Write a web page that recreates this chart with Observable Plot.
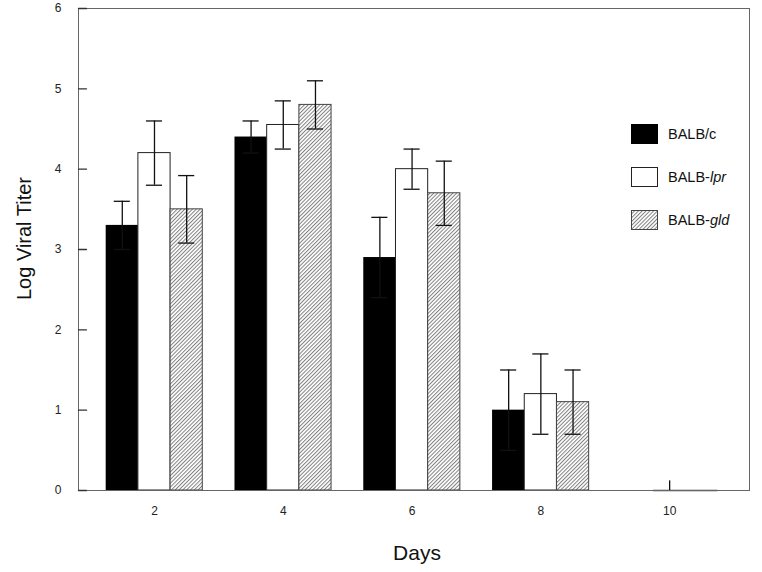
<!DOCTYPE html>
<html><head><meta charset="utf-8">
<script src="https://cdn.jsdelivr.net/npm/d3@7"></script>
<script src="https://cdn.jsdelivr.net/npm/@observablehq/plot@0.6"></script>
<style>
body{margin:0;background:#fff;font-family:"Liberation Sans",Arial,sans-serif;}
#wrap{position:relative;width:762px;height:572px;}
#legend{position:absolute;left:631px;top:124px;}
.item{display:flex;align-items:center;height:20px;margin-bottom:23px;font-size:14.5px;color:#111;white-space:nowrap}
.sw{width:27px;height:20px;box-sizing:border-box;margin-right:10px}
</style></head><body><div id="wrap"></div>
<script>
const days = [2, 4, 6, 8, 10];
const strains = ["BALB/c", "BALB-lpr", "BALB-gld"];
const balbC = [3.3, 4.4, 2.9, 1.0, 0];
const balbCErr = [0.3, 0.2, 0.5, 0.5, 0];
const balbLpr = [4.2, 4.55, 4.0, 1.2, 0];
const balbLprErr = [0.4, 0.3, 0.25, 0.5, 0.12];
const balbGld = [3.5, 4.8, 3.7, 1.1, 0];
const balbGldErr = [0.42, 0.3, 0.4, 0.4, 0];
const yTicks = [0, 1, 2, 3, 4, 5, 6];

const series = [balbC, balbLpr, balbGld];
const errs = [balbCErr, balbLprErr, balbGldErr];
const barW = 0.5; // bar width in day units
const rows = [];
strains.forEach((s, i) => days.forEach((d, j) => rows.push({
  strain: s, si: i, day: d, value: series[i][j], err: errs[i][j],
  center: d + (i - 1) * barW
})));

const styles = [
  {fill: "#000", stroke: "none"},
  {fill: "#fff", stroke: "#222"},
  {fill: "url(#hatch)", stroke: "#444"}
];

const tickShape = {draw(context, l) { context.moveTo(0, 0); context.lineTo(0, -l); }};

const chart = Plot.plot({
  width: 762, height: 572,
  marginLeft: 78, marginRight: 13, marginTop: 8, marginBottom: 82,
  style: {fontFamily: "'Liberation Sans', Arial, sans-serif", background: "#fff", color: "#222"},
  x: {type: "linear", domain: [0.82, 11.24]},
  y: {domain: [0, 6]},
  marks: [
    ...strains.map((s, i) => Plot.rectY(rows.filter(r => r.si === i), {
      x1: r => r.center - barW / 2, x2: r => r.center + barW / 2,
      y1: 0, y2: "value", fill: styles[i].fill, stroke: styles[i].stroke, strokeWidth: 1
    })),
    Plot.ruleY(rows.filter(r => r.value === 0 && r.si > 0), {y: "value", x1: r => r.center - barW / 2, x2: r => r.center + barW / 2, stroke: "#444", strokeWidth: 1.5}),
    Plot.ruleX(rows.filter(r => r.err > 0), {x: "center", y1: r => Math.max(0, r.value - r.err), y2: r => r.value + r.err, stroke: "#111", strokeWidth: 1.3}),
    Plot.ruleY(rows.filter(r => r.err >= 0.2), {y: r => r.value + r.err, x1: r => r.center - 0.125, x2: r => r.center + 0.125, stroke: "#111", strokeWidth: 1.3}),
    Plot.ruleY(rows.filter(r => r.err >= 0.2), {y: r => r.value - r.err, x1: r => r.center - 0.125, x2: r => r.center + 0.125, stroke: "#111", strokeWidth: 1.3}),
    Plot.frame({stroke: "#666"}),
    Plot.vector(yTicks, {y: d => d, frameAnchor: "left", length: 8, rotate: 90, anchor: "start", shape: tickShape, stroke: "#333", strokeWidth: 1.3}),
    Plot.axisY({ticks: yTicks, tickSize: 0, tickPadding: 17, tickFormat: d => d, label: null, fontSize: 12}),
    Plot.axisX({ticks: days, tickSize: 0, tickPadding: 16, tickFormat: d => d, label: null, fontSize: 12}),
    Plot.text(["Log Viral Titer"], {frameAnchor: "left", text: d => d, textAnchor: "middle", lineAnchor: "middle", rotate: -90, dx: -54, dy: -11, fontSize: 20, fill: "#111"}),
    Plot.text(["Days"], {frameAnchor: "bottom", text: d => d, textAnchor: "middle", lineAnchor: "middle", dy: 63, dx: 3, fontSize: 21, fill: "#111"})
  ]
});

const defs = d3.select(chart).insert("defs", ":first-child");
const pat = defs.append("pattern").attr("id", "hatch").attr("patternUnits", "userSpaceOnUse")
  .attr("width", 2.7).attr("height", 2.7).attr("patternTransform", "rotate(45)");
pat.append("rect").attr("width", 2.7).attr("height", 2.7).attr("fill", "#fff");
pat.append("line").attr("x1", 0.5).attr("y1", 0).attr("x2", 0.5).attr("y2", 2.7).attr("stroke", "#808080").attr("stroke-width", 1);

const wrap = document.getElementById("wrap");
wrap.appendChild(chart);

const legend = document.createElement("div");
legend.id = "legend";
const labels = ["BALB/c", "BALB-<i>lpr</i>", "BALB-<i>gld</i>"];
const swStyles = [
  "background:#000;",
  "background:#fff;border:1px solid #222;",
  ""
];
strains.forEach((s, i) => {
  const it = document.createElement("div");
  it.className = "item";
  if (i === 2) {
    it.innerHTML = `<svg class="sw" width="27" height="20"><rect x="0.5" y="0.5" width="26" height="19" fill="url(#hatch)" stroke="#444"/></svg><span>${labels[i]}</span>`;
  } else {
    it.innerHTML = `<div class="sw" style="${swStyles[i]}"></div><span>${labels[i]}</span>`;
  }
  legend.appendChild(it);
});
wrap.appendChild(legend);
</script>
</body></html>
